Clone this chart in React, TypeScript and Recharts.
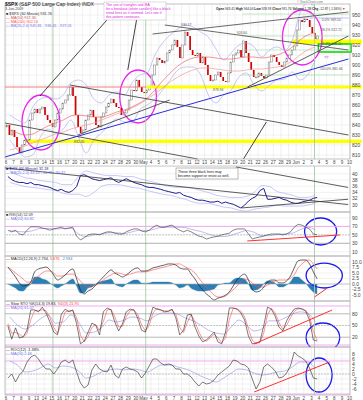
import React from 'react';
import {
  ComposedChart, Line, Bar, Area, XAxis, YAxis, CartesianGrid,
  ReferenceLine, ReferenceArea, ReferenceDot,
} from 'recharts';

const FONT = '"Liberation Sans", Arial, Helvetica, sans-serif';

// ---------------- data ----------------
const dayLabels = ['6','7','8','9','13','14','15','16','17','20','21','22','23','24','27','28','29','30','May','4','5','6','7','8','11','12','13','14','15','18','19','20','21','22','26','27','28','29','Jun','2','3','4','5','8','9','10'];

const spxFirstOpen = 838;
// three readings per trading day (Apr 6 .. Jun 3)
const spxCloses = [
  840,830,835, 828,818,812, 820,825,825, 845,852,856, 852,856,858, 850,845,842, 838,845,852, 856,862,865,
  870,878,869, 850,838,832, 835,845,850, 855,848,840, 838,848,852, 858,862,866, 862,858,857, 850,852,855,
  865,875,874, 885,878,873, 872,875,878, 890,900,907, 905,902,904, 912,915,920, 925,918,907, 920,933,929,
  915,910,909, 912,902,908, 900,890,884, 885,890,893, 888,884,883, 892,903,910, 912,915,908, 924,912,903,
  895,888,888, 892,889,887, 890,903,910, 908,903,900, 898,903,907, 910,915,919, 935,945,943, 946,945,938,
  932,926,929,
];
const spxMaFast = [835,832,830,831,835,839,842,845,849,850, 849,848,848,850,853,855,858,862,867,875, 884,892,899,904,907,908,908,907,906,906, 907,908,908,907,908,910,913,918,925,930, 932];
const spxMaSlow = [815,817,819,822,825,828,831,833,836,838, 840,842,845,848,851,854,857,861,866,871, 877,883,888,892,895,897,897,896,895,894, 894,895,896,896,897,898,900,904,910,915, 918];
const spxBbUpper = [850,845,842,858,866,868,866,870,882,885, 880,866,862,870,873,870,882,890,892,910, 922,930,936,940,938,933,928,916,905,912, 920,922,918,908,915,918,915,925,952,962, 958];
const spxBbLower = [825,815,808,810,828,836,832,836,845,828, 812,825,832,840,846,843,842,855,860,866, 875,885,895,898,898,890,870,862,870,875, 888,892,880,874,880,885,886,893,885,890, 905];

// two readings per trading day
const vixValues = [39.1,38.1,37.5,37.2,37.2,36.8,37.2,36.5,36.5,36.2, 35.9,35.6,35.0,34.6,35.0,34.3,34.0,34.6,35.9,39.4, 39.7,39.1,38.4,38.1,37.8,38.1,38.4,38.7,37.8,37.2, 37.8,38.4,37.8,37.2,36.8,36.5,35.9,35.6,35.6,35.3, 35.0,34.6,34.3,34.0,33.7,34.0,33.1,32.7,32.4,31.8, 31.5,31.5,31.2,30.9,30.9,31.2,30.5,30.9,30.5,30.2, 29.6,29.0,29.9,31.2,32.1,32.7,34.6,35.3,31.8,31.8, 32.1,32.4,31.8,31.5,30.9,30.5,30.5,30.9,31.2,31.5, 32.1,32.4];
const vixBbUpper = [40.6,39.7,38.7,38.4,37.8,37.5,37.2,36.5,36.5,39.1, 40.9,40.3,39.7,39.4,39.4,39.1,39.1,38.4,37.8,37.2, 36.5,35.9,35.6,35.6,35.3,34.6,34.0,33.1,32.7,32.4, 32.4,32.7,34.0,36.2,35.9,34.3,33.7,33.1,32.4,32.4, 33.1];
const vixBbLower = [37.2,36.5,35.9,35.6,35.3,34.9,34.6,33.7,33.4,33.4, 32.7,34.0,35.9,36.5,36.5,36.2,35.6,35.3,34.6,34.0, 33.4,33.1,32.4,31.8,30.9,30.5,30.5,29.9,29.3,29.0, 28.3,28.0,28.6,29.0,29.3,29.9,29.6,29.6,29.6,29.9, 30.5];

const rsiValues = [61,57,61,52,50,61,69,69,69,66, 64,61,64,66,68,64,66,68,47,38, 43,50,52,52,50,54,57,57,54,52, 52,57,61,64,64,59,57,61,68,73, 68,68,71,73,66,61,57,61,57,52, 47,45,40,43,45,47,50,52,54,61, 64,64,64,52,40,43,45,47,50,52, 52,52,50,52,57,68,75,73,68,64, 52,50];
const rsiAvg = [60,58,57,60,65,65,64,65,66,52, 46,50,52,55,55,53,57,61,60,64, 68,68,68,67,62,58,52,47,46,49, 55,60,56,48,48,51,52,54,62,68, 62];

const macdLine = [7.7,5.5,3.2,0.5,-0.9,-0.5,0.9,5.5,6.8,7.3, 7.7,6.4,4.1,1.8,2.7,4.1,5.9,6.8,2.3,-2.7, -4.5,-3.2,-2.3,-0.5,1.4,3.2,5.0,6.4,5.0,4.1, 3.2,4.1,5.5,6.8,7.3,5.9,5.9,6.4,7.3,7.7, 8.2,8.6,9.1,9.1,8.6,7.3,6.8,6.8,4.5,2.3, -0.5,-2.7,-4.5,-5.9,-7.3,-6.4,-5.9,-5.0,-3.6,-0.9, 1.8,3.6,4.5,1.8,-2.3,-3.6,-3.2,-1.4,0.9,1.8, 1.8,0.5,0.5,1.4,3.6,7.3,10.5,10.9,10.9,9.1, 5.5,2.3];
const macdSignal = [7.7,6.4,5.0,3.6,2.3,0.9,0.9,2.3,3.6,5.0, 5.9,5.9,5.0,3.6,3.6,4.1,4.5,4.5,3.2,1.4, -0.5,-1.4,-0.9,-0.5,0.5,1.8,3.2,4.1,5.0,5.0, 4.5,4.1,4.5,5.0,5.5,5.5,5.5,5.9,6.4,6.8, 7.3,7.7,8.2,8.6,9.1,9.1,8.2,7.3,6.4,5.0, 2.7,0.5,-1.4,-3.2,-5.0,-5.9,-5.9,-5.5,-4.1,-2.7, -0.9,0.9,2.3,1.8,0.5,-0.9,-1.4,-1.4,-0.5,0.5, 1.4,1.8,1.8,1.8,2.7,4.1,7.3,9.1,10.5,10.9, 9.1,6.8];
const macdHist = [0,-0.9,-1.8,-3.1,-3.2,-1.4,0,3.2,3.2,2.3, 1.8,0.5,-0.9,-1.8,-0.9,0,1.4,2.3,-0.9,-4.1, -4.0,-1.8,-1.4,0,0.9,1.4,1.8,2.3,0,-0.9, -1.3,0,1.0,1.8,1.8,0.4,0.4,0.5,0.9,0.9, 0.9,0.9,0.9,0.5,-0.5,-1.8,-1.4,-0.5,-1.9,-2.7, -3.2,-3.2,-3.1,-2.7,-2.3,-0.5,0,0.5,0.5,1.8, 2.7,2.7,2.2,0,-2.8,-2.7,-1.8,0,1.4,1.3, 0.4,-1.3,-1.3,-0.4,0.9,3.2,3.2,1.8,0.4,-1.8, -3.6,-4.5];

const stoK = [49,15,44,18,21,38,90,90,85,97, 82,59,33,26,79,92,85,90,54,3, 10,33,56,51,26,85,95,90,59,36, 54,85,92,90,69,38,33,64,97,92, 90,85,87,92,69,26,38,77,79,46, 23,8,13,23,33,8,3,33,95,95, 92,82,64,23,3,5,8,49,97,92, 74,46,36,62,79,92,95,92,87,64, 13,10];
const stoD = [55,30,32,28,20,30,65,88,88,90, 88,70,45,30,55,85,88,88,70,25, 8,22,45,52,38,60,90,92,72,46, 48,72,88,90,78,52,36,50,82,94, 90,88,86,90,78,45,32,58,78,60, 34,15,10,18,28,18,6,18,65,94, 93,87,72,42,12,4,6,30,78,94, 82,58,40,50,70,86,93,93,89,74, 35,12];
const stoAvg = [72,51,41,51,67,77,56,59,77,59, 31,33,44,64,59,64,72,69,62,74, 82,82,79,69,62,51,38,31,28,46, 64,51,36,41,62,62,69,79,85,82, 59];

const rocValues = [-1.6,0,-3.2,-0.4,1.2,4.8,6.8,7.6,6.0,3.6, 2.0,2.0,0,2.0,4.8,5.6,4.4,5.6,0.8,-3.6, -5.6,-4.4,1.6,4.0,2.0,1.2,0.8,3.6,-0.4,-1.6, 2.0,2.8,2.0,1.6,0.8,-1.6,0.4,3.2,6.0,6.0, 4.4,3.6,4.0,3.6,2.0,2.0,0,0,-1.2,-3.2, -4.8,-3.2,-4.0,-3.6,-2.4,-0.4,0.8,2.0,3.2,5.6, 5.2,4.0,3.6,2.4,-2.0,-6.0,-3.2,2.8,4.0,2.8, 1.2,-1.6,-1.2,0.4,3.2,8.8,7.2,6.4,5.2,2.4, -1.6,-2.0];
const rocAvg = [5.2,3.6,0.8,1.2,2.4,4.0,2.4,3.2,2.8,1.2, -1.6,-0.8,0.8,1.6,2.0,1.6,2.0,1.6,0.8,2.4, 3.6,3.6,2.8,2.0,0.8,-0.8,-2.0,-3.2,-1.6,0.4, 2.0,1.6,0.4,-0.4,0,0.8,1.2,2.8,4.8,4.8, 2.0];

const priceTicks = [810,820,830,840,850,860,870,880,890,900,910,920,930,940,950];
const vixTicks = [30,32,34,36,38,40];
const rsiTicks = [10,30,50,70,90];
const macdTicks = [-5,-2.5,0,2.5,5,7.5,10];
const stoTicks = [20,50,80];
const rocTicks = [-6,-4,-2,0,2,4,6,8];
const markerDays = [6.15, 18.3, 40.4];

// ---------------- helpers ----------------
const X_DOMAIN: [number, number] = [-0.13, 45.05];
const dayTicks = dayLabels.map((_, i) => i);
const halfDay = (a: number[]) => a.map((v, k) => ({ x: k / 2 + 0.25, v }));
const daily = (a: number[]) => a.map((v, d) => ({ x: d + 0.5, v }));

const candleRows = spxCloses.map((c, i) => {
  const o = i === 0 ? spxFirstOpen : spxCloses[i - 1];
  const d = Math.floor(i / 3);
  const j = i % 3;
  return { x: d + (2 * j + 1) / 6, body: [Math.min(o, c), Math.max(o, c)], up: c >= o };
});

const Candle = (p: any) => {
  const { x, y, width, height, payload } = p;
  if (x == null || y == null) return null;
  const h = Math.max(Math.abs(height), 0.9);
  if (payload && payload.up) {
    return <rect x={x} y={y} width={width} height={h} fill="#ffffff" stroke="#666" strokeWidth={0.45} />;
  }
  return <rect x={x} y={y} width={width} height={h} fill="#d10000" />;
};

const ellipseShape = (color: string, w = 1.3) => (p: any) => (
  <ellipse
    cx={p.x + p.width / 2}
    cy={p.y + p.height / 2}
    rx={Math.abs(p.width) / 2}
    ry={Math.abs(p.height) / 2}
    fill="none"
    stroke={color}
    strokeWidth={w}
  />
);

const yTick = { fontSize: 5, fill: '#444', fontFamily: FONT };

function yAxis(domain: [number, number], ticks: number[], fmt?: (v: number) => string) {
  return (
    <YAxis
      orientation="right"
      type="number"
      domain={domain}
      allowDataOverflow
      ticks={ticks}
      interval={0}
      width={13}
      tick={yTick}
      tickLine={false}
      axisLine={false}
      tickSize={0}
      tickMargin={2}
      tickFormatter={fmt}
    />
  );
}

function xAxis(show: boolean) {
  return (
    <XAxis
      type="number"
      dataKey="x"
      domain={X_DOMAIN}
      allowDataOverflow
      ticks={dayTicks}
      interval={0}
      tickFormatter={(i: number) => dayLabels[i] ?? ''}
      height={show ? 8 : 0}
      tick={show ? { fontSize: 4.5, fill: '#444', fontFamily: FONT } : false}
      tickLine={false}
      axisLine={false}
      tickSize={0}
      tickMargin={2}
    />
  );
}

const markers = () =>
  markerDays.map((m) => (
    <ReferenceLine key={'m' + m} x={m} stroke="#a9c9a9" strokeWidth={0.9} />
  ));

const seg = (x1: number, y1: number, x2: number, y2: number, stroke: string, w = 0.8, key?: string) => (
  <ReferenceLine
    key={key ?? `${x1}-${y1}-${x2}-${y2}`}
    segment={[{ x: x1, y: y1 }, { x: x2, y: y2 }]}
    stroke={stroke}
    strokeWidth={w}
    ifOverflow="visible"
  />
);

const grid = <CartesianGrid stroke="#e2e2e2" strokeWidth={0.5} />;

const lineProps = { dot: false, isAnimationActive: false, dataKey: 'v' } as const;

// ---------------- panels ----------------
function MainPanel() {
  return (
    <div style={{ position: 'absolute', left: 0, top: 0 }}>
      <ComposedChart width={363} height={167} data={candleRows} margin={{ top: 4, right: 0, bottom: 0, left: 5 }}>
        {grid}
        {xAxis(true)}
        {yAxis([806, 961], priceTicks)}
        {markers()}
        <ReferenceArea x1={37.5} x2={46.6} y1={921} y2={925.5} fill="#ffff00" fillOpacity={1} stroke="none" ifOverflow="visible" />
        <ReferenceArea x1={2.5} x2={46.6} y1={822} y2={825.5} fill="#ffff00" fillOpacity={1} stroke="none" ifOverflow="visible" />
        {seg(-0.13, 878, 18.4, 878, '#f07070', 0.9, 'redH')}
        {seg(18.4, 878, 46.6, 878, '#ffff00', 3.2, 'yelH')}
        {seg(31, 951, 44.9, 951, '#9edc9e', 0.6, 'f1')}
        {seg(31, 929, 44.9, 929, '#9edc9e', 0.6, 'f2')}
        {seg(31, 915, 44.9, 915, '#9edc9e', 0.6, 'f3')}
        {seg(31, 890, 44.9, 890, '#9edc9e', 0.6, 'f4')}
        {seg(38.4, 947, 44.9, 947, '#9999ff', 0.6, 'pH')}
        <Line data={daily(spxBbUpper)} type="monotone" stroke="#a3a3ec" strokeWidth={0.6} {...lineProps} />
        <Line data={daily(spxBbLower)} type="monotone" stroke="#a3a3ec" strokeWidth={0.6} {...lineProps} />
        <Line data={daily(spxMaSlow)} type="monotone" stroke="#f29a9a" strokeWidth={0.7} {...lineProps} />
        <Line data={daily(spxMaFast)} type="monotone" stroke="#e86a6a" strokeWidth={0.7} {...lineProps} />
        <Bar dataKey="body" barSize={1.7} shape={Candle} isAnimationActive={false} />
        {seg(-0.13, 842, 25.1, 806, '#333', 0.8, 'L3')}
        {seg(8.37, 880, 44.84, 830, '#333', 0.8, 'L4')}
        {seg(9.41, 830, 21.44, 865, '#333', 0.8, 'L5')}
        {seg(31.63, 878, 44.84, 929, '#333', 0.8, 'L6')}
        {seg(19.2, 931, 44.84, 953, '#444', 0.8, 'L7')}
        {seg(20.8, 940, 44.84, 915, '#444', 0.8, 'L8')}
        {seg(13.33, 946, 4.44, 869, '#111', 0.8, 'C1')}
        {seg(17.12, 946, 15.95, 895, '#111', 0.8, 'C2')}
        {seg(31.1, 806, 34.1, 843, '#111', 0.8, 'C3')}
        {seg(-0.13, 808, 44.84, 906, '#2b2bdd', 1, 'blue')}
        <ReferenceArea x1={40.9} x2={45.2} y1={913} y2={921} fill="none" stroke="#00d000" strokeWidth={1.3} ifOverflow="visible" />
        <ReferenceArea x1={2.09} x2={7.06} y1={815} y2={870} ifOverflow="visible" shape={ellipseShape('#ee22ee')} />
        <ReferenceArea x1={14.9} x2={19.7} y1={842} y2={895} ifOverflow="visible" shape={ellipseShape('#ee22ee')} />
        <ReferenceArea x1={36.2} x2={41.4} y1={900} y2={955} ifOverflow="visible" shape={ellipseShape('#ee22ee')} />
        <ReferenceDot x={9.6} y={829} r={0} label={{ value: '832.45', fontSize: 3.4, fill: '#555', position: 'bottom', fontFamily: FONT }} />
        <ReferenceDot x={23.6} y={934} r={0} label={{ value: '930.17', fontSize: 3.4, fill: '#555', position: 'top', fontFamily: FONT }} />
        <ReferenceDot x={30.9} y={926} r={0} label={{ value: '924.60', fontSize: 3.4, fill: '#555', position: 'top', fontFamily: FONT }} />
        <ReferenceDot x={27.8} y={881} r={0} label={{ value: '878.94', fontSize: 3.4, fill: '#555', position: 'bottom', fontFamily: FONT }} />
        <ReferenceDot x={42.6} y={951} r={0} label={{ value: '0.0% 949.50', fontSize: 3.4, fill: '#555', position: 'bottom', fontFamily: FONT }} />
        <ReferenceDot x={42.6} y={929} r={0} label={{ value: '38.2% 922.72', fontSize: 3.4, fill: '#555', position: 'top', fontFamily: FONT }} />
        <ReferenceDot x={42.6} y={915} r={0} label={{ value: '61.8% 906.11', fontSize: 3.4, fill: '#555', position: 'top', fontFamily: FONT }} />
        <ReferenceDot x={42.6} y={890} r={0} label={{ value: '100.0% 881.66', fontSize: 3.4, fill: '#555', position: 'top', fontFamily: FONT }} />
      </ComposedChart>
    </div>
  );
}

function VixPanel() {
  return (
    <div style={{ position: 'absolute', left: 0, top: 166 }}>
      <ComposedChart width={363} height={46} margin={{ top: 0, right: 0, bottom: 0, left: 5 }}>
        {grid}
        {xAxis(false)}
        {yAxis([27.7, 42.5], vixTicks)}
        {markers()}
        <Line data={daily(vixBbUpper)} type="monotone" stroke="#a3a3ec" strokeWidth={0.6} {...lineProps} />
        <Line data={daily(vixBbLower)} type="monotone" stroke="#a3a3ec" strokeWidth={0.6} {...lineProps} />
        <Line data={halfDay(vixValues)} type="linear" stroke="#1c1c8c" strokeWidth={1} {...lineProps} />
        {seg(30.1, 42.2, 44.8, 35.6, '#333', 0.8, 'v1')}
        {seg(-0.13, 41.9, 44.8, 30.1, '#333', 0.8, 'v2')}
        {seg(30.85, 29.0, 44.8, 31.8, '#333', 0.8, 'v3')}
      </ComposedChart>
    </div>
  );
}

function RsiPanel() {
  return (
    <div style={{ position: 'absolute', left: 0, top: 212 }}>
      <ComposedChart width={363} height={44} margin={{ top: 0, right: 0, bottom: 0, left: 5 }}>
        {grid}
        {xAxis(false)}
        {yAxis([0, 104], rsiTicks)}
        {markers()}
        <ReferenceLine y={70} stroke="#f0a0f0" strokeWidth={0.9} />
        <ReferenceLine y={30} stroke="#999" strokeWidth={0.7} />
        <ReferenceLine y={50} stroke="#aaa" strokeWidth={0.6} strokeDasharray="2 1" />
        <Line data={daily(rsiAvg)} type="monotone" stroke="#8f8fdd" strokeWidth={0.6} {...lineProps} />
        <Line data={halfDay(rsiValues)} type="linear" stroke="#333" strokeWidth={0.6} {...lineProps} />
        {seg(31.6, 35.5, 43.7, 49.6, '#ff3030', 1, 'r1')}
        <ReferenceArea x1={39.1} x2={43.3} y1={26} y2={89.8} ifOverflow="visible" shape={ellipseShape('#1a1aee')} />
      </ComposedChart>
    </div>
  );
}

function MacdPanel() {
  return (
    <div style={{ position: 'absolute', left: 0, top: 256 }}>
      <ComposedChart width={363} height={45} margin={{ top: 0, right: 0, bottom: 0, left: 5 }}>
        {grid}
        {xAxis(false)}
        {yAxis([-7.7, 12.7], macdTicks, (v: number) => v.toFixed(1))}
        {markers()}
        <ReferenceLine y={0} stroke="#aaa" strokeWidth={0.6} />
        <Area data={halfDay(macdHist)} dataKey="v" type="monotone" baseValue={0} fill="#2c7fb4" fillOpacity={1} stroke="#2c7fb4" strokeWidth={0.4} isAnimationActive={false} />
        <Line data={halfDay(macdSignal)} type="monotone" stroke="#ff4a4a" strokeWidth={0.6} {...lineProps} />
        <Line data={halfDay(macdLine)} type="monotone" stroke="#222" strokeWidth={0.7} {...lineProps} />
        {seg(40.4, -5.9, 42.1, -1.8, '#ff3030', 1, 'mr')}
        <ReferenceArea x1={39.3} x2={44.05} y1={-1.8} y2={9.5} ifOverflow="visible" shape={ellipseShape('#1a1aee')} />
      </ComposedChart>
    </div>
  );
}

function StoPanel() {
  return (
    <div style={{ position: 'absolute', left: 0, top: 301 }}>
      <ComposedChart width={363} height={46} margin={{ top: 0, right: 0, bottom: 0, left: 5 }}>
        {grid}
        {xAxis(false)}
        {yAxis([-5.1, 112.8], stoTicks)}
        {markers()}
        <ReferenceLine y={100} stroke="#f0a0f0" strokeWidth={0.9} />
        <ReferenceLine y={0} stroke="#f0a0f0" strokeWidth={0.9} />
        <ReferenceLine y={80} stroke="#999" strokeWidth={0.6} />
        <ReferenceLine y={20} stroke="#999" strokeWidth={0.6} />
        <ReferenceLine y={50} stroke="#aaa" strokeWidth={0.6} strokeDasharray="2 1" />
        <Line data={daily(stoAvg)} type="monotone" stroke="#8f8fdd" strokeWidth={0.6} {...lineProps} />
        <Line data={halfDay(stoD)} type="linear" stroke="#ff4a4a" strokeWidth={0.6} {...lineProps} />
        <Line data={halfDay(stoK)} type="linear" stroke="#222" strokeWidth={0.6} {...lineProps} />
        {seg(32.5, 2.6, 42.7, 89.7, '#ff3030', 1, 'sr')}
        <ReferenceArea x1={39.3} x2={43.7} y1={-17.9} y2={56.4} ifOverflow="visible" shape={ellipseShape('#1a1aee')} />
      </ComposedChart>
    </div>
  );
}

function RocPanel() {
  return (
    <div style={{ position: 'absolute', left: 0, top: 347 }}>
      <ComposedChart width={363} height={56} margin={{ top: 0, right: 0, bottom: 0, left: 5 }}>
        {grid}
        {xAxis(true)}
        {yAxis([-8.4, 10.8], rocTicks)}
        {markers()}
        <ReferenceLine y={5.2} stroke="#f0a0f0" strokeWidth={0.9} />
        <ReferenceLine y={-8} stroke="#f0a0f0" strokeWidth={0.9} />
        <ReferenceLine y={0} stroke="#aaa" strokeWidth={0.6} strokeDasharray="2 1" />
        <Line data={daily(rocAvg)} type="monotone" stroke="#8f8fdd" strokeWidth={0.6} {...lineProps} />
        <Line data={halfDay(rocValues)} type="linear" stroke="#222" strokeWidth={0.6} {...lineProps} />
        {seg(32.5, -7.2, 42.4, 4.8, '#ff3030', 1, 'pr')}
        <ReferenceArea x1={39.3} x2={42.7} y1={-7.2} y2={6.4} ifOverflow="visible" shape={ellipseShape('#1a1aee')} />
      </ComposedChart>
    </div>
  );
}

const frames: [number, number][] = [[4, 159], [166, 212], [212, 256], [256, 301], [301, 347], [347, 395]];

function Overlay() {
  const fs = 3.8;
  return (
    <svg width={363} height={400} style={{ position: 'absolute', left: 0, top: 0, pointerEvents: 'none' }} fontFamily={FONT}>
      {frames.map(([a, b]) => (
        <rect key={a} x={5} y={a} width={345} height={b - a} fill="none" stroke="#a8a8a8" strokeWidth={0.6} />
      ))}
      <text x={5} y={5.5} fontSize={5} fill="#222"><tspan fontWeight="bold">$SPX</tspan> (S&amp;P 500 Large Cap Index) INDX</text>
      <text x={5} y={10} fontSize={3.6} fill="#444">3-Jun-2009</text>
      <text x={6} y={14.5} fontSize={fs} fill="#333">■ $SPX (60 Minute) 931.76</text>
      <text x={6} y={18.5} fontSize={fs} fill="#c85050">— MA(50) 917.36</text>
      <text x={6} y={22.5} fontSize={fs} fill="#ff5a3c">— MA(200) 902.10</text>
      <text x={6} y={26.5} fontSize={fs} fill="#7070ee">— BB(20,2.0) 945.81 - 936.41 - 927.01</text>
      <text x={297} y={3.3} fontSize={3} fill="#777">© StockCharts.com</text>
      <text x={216} y={9.8} fontSize={3.2} fill="#222">
        <tspan fontWeight="bold">Open</tspan> 943.41 <tspan fontWeight="bold">High</tspan> 944.04 <tspan fontWeight="bold">Low</tspan> 928.93 <tspan fontWeight="bold">Close</tspan> 931.76 <tspan fontWeight="bold">Volume</tspan> 1.2B <tspan fontWeight="bold">Chg</tspan> -12.87 (-1.36%) <tspan fill="#d00">▼</tspan>
      </text>
      <rect x={104} y={2} width={62} height={18} fill="#ffffff" stroke="#bbbbbb" strokeWidth={0.5} />
      <text fontSize={3.5} fill="#e020e0">
        <tspan x={106} y={6}>The use of triangles and MA</tspan>
        <tspan x={106} y={10}>for a breakout (white candles) like a black</tspan>
        <tspan x={106} y={14}>trend lines as it seemed. Let's see if</tspan>
        <tspan x={106} y={18}>this pattern continues.</tspan>
      </text>
      <text x={324} y={59} fontSize={4} fill="#e020e0">??</text>
      <rect x={176} y={168} width={62} height={11} fill="#ffffff" stroke="#777" strokeWidth={0.5} />
      <text fontSize={3.5} fill="#111">
        <tspan x={178} y={172.5}>These three black lines may</tspan>
        <tspan x={178} y={176.8}>become support or resist as well.</tspan>
      </text>
      <text x={6} y={170} fontSize={fs} fill="#1c1c8c">■ $VIX (60 Minute) 32.18</text>
      <text x={6} y={174} fontSize={fs} fill="#7070ee">— BB(20,2.0) 33.10 - 31.76 - 30.42</text>
      <text x={6} y={216} fontSize={fs} fill="#333">■ RSI(14) 52.09</text>
      <text x={6} y={220} fontSize={fs} fill="#7070ee">— MA(20) 60.81</text>
      <text x={6} y={260} fontSize={fs} fill="#222">— MACD(12,26,9) 2.734, <tspan fill="#ff3030">5.676,</tspan> <tspan fill="#2c7fb4">-2.934</tspan></text>
      <text x={6} y={305} fontSize={fs} fill="#222">— Slow STO %K(14,3) 19.83, <tspan fill="#ff3030">%D(3) 21.95</tspan></text>
      <text x={6} y={309} fontSize={fs} fill="#7070ee">— MA(20) 61.07</text>
      <text x={6} y={351} fontSize={fs} fill="#222">— ROC(12) -1.38%</text>
      <text x={6} y={355} fontSize={fs} fill="#7070ee">— MA(20) 2.46</text>
    </svg>
  );
}

export default function App() {
  return (
    <div style={{ position: 'absolute', left: 0, top: 0, width: 363, height: 400, background: '#ffffff', fontFamily: FONT, overflow: 'hidden' }}>
      <MainPanel />
      <VixPanel />
      <RsiPanel />
      <MacdPanel />
      <StoPanel />
      <RocPanel />
      <Overlay />
    </div>
  );
}
